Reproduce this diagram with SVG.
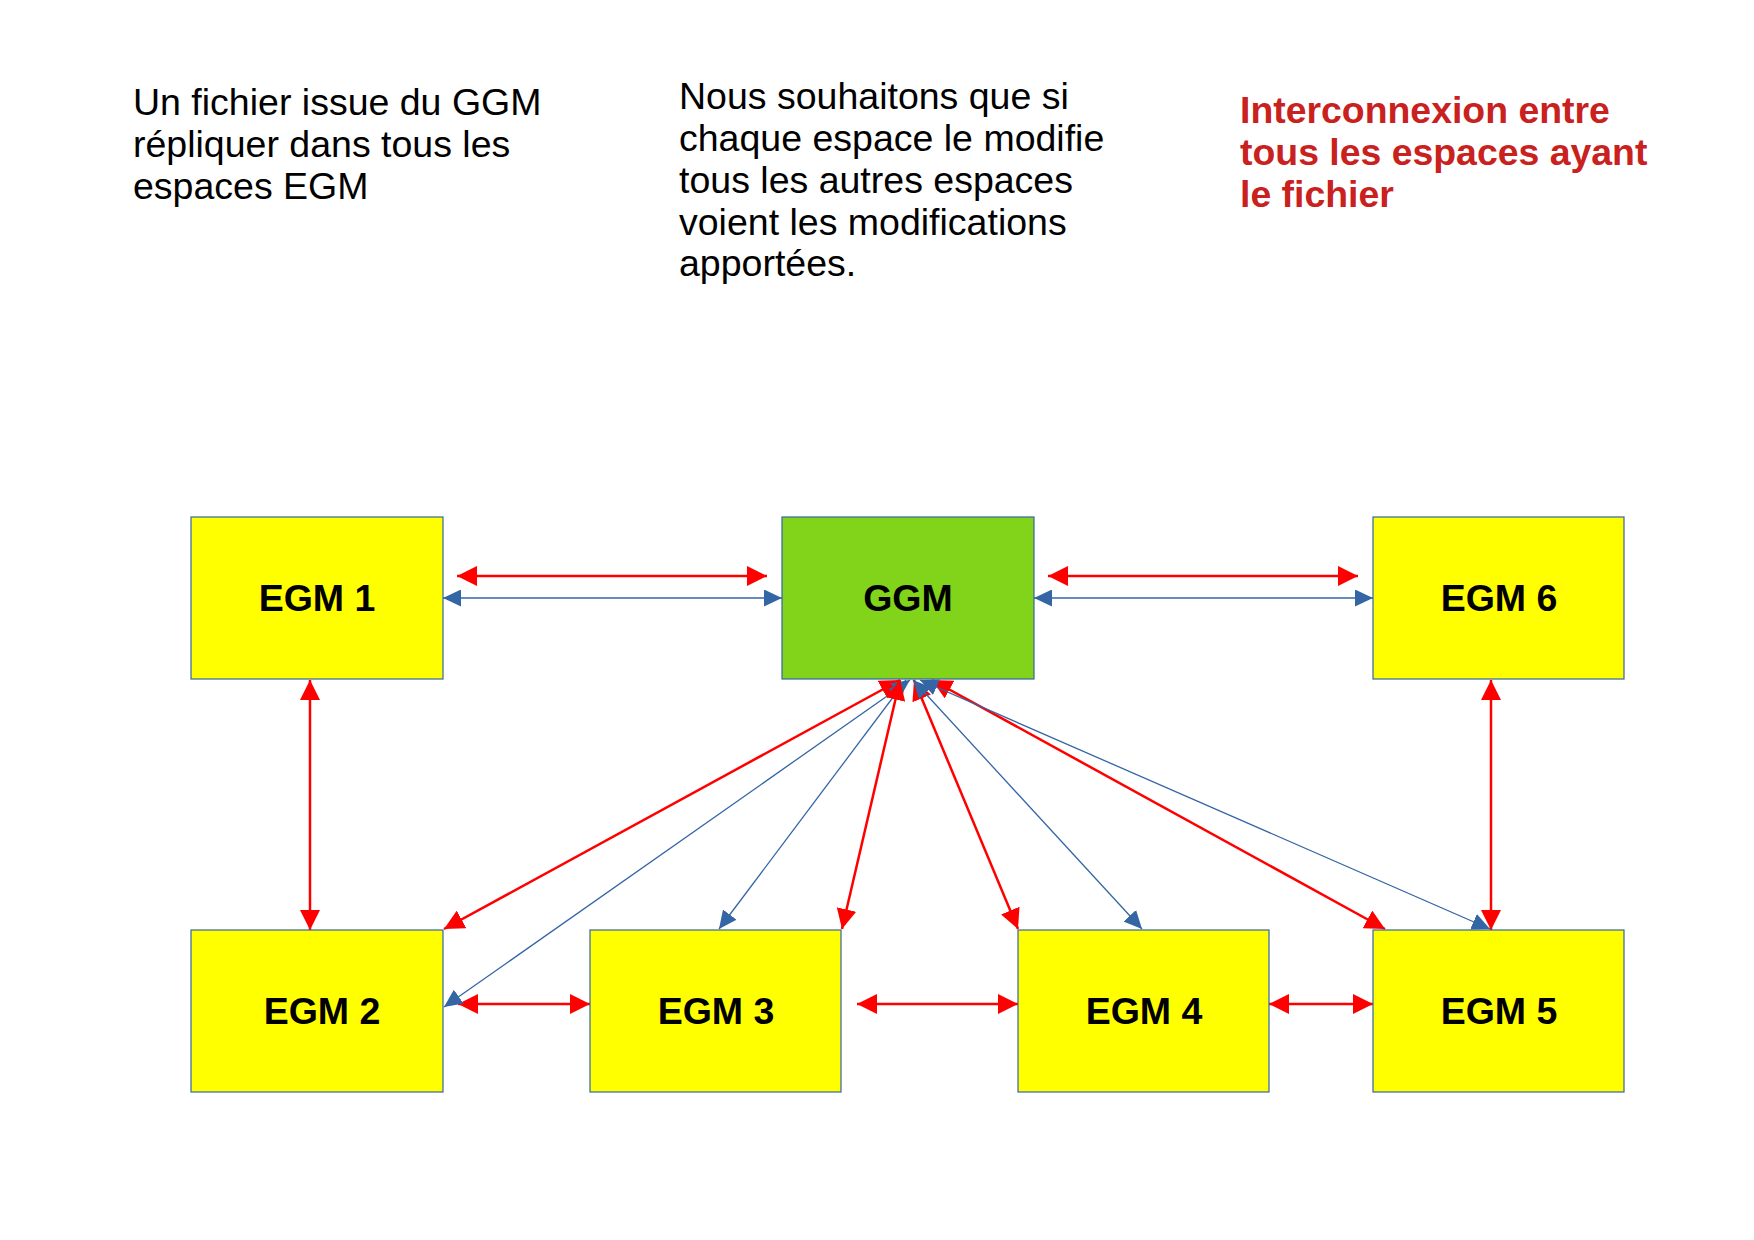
<svg xmlns="http://www.w3.org/2000/svg" width="1754" height="1240" viewBox="0 0 1754 1240">
<style>
.box{stroke:#3465A4;stroke-width:1.2}
.egm{fill:#FFFF00}
.ggm{fill:#81D41A}
.lbl{font-family:"Liberation Sans",Arial,sans-serif;font-weight:bold;font-size:37.5px;fill:#000;text-anchor:middle}
.note{font-family:"Liberation Sans",Arial,sans-serif;font-size:37.5px;fill:#000}
.title{font-family:"Liberation Sans",Arial,sans-serif;font-size:37.4px;font-weight:bold;fill:#C9211E}
.r{stroke:#FF0000;stroke-width:2.5;fill:none;marker-start:url(#ra);marker-end:url(#ra)}
.b{stroke:#3465A4;stroke-width:1.3;fill:none;marker-start:url(#ba);marker-end:url(#ba)}
</style>
<defs>
<marker id="ra" viewBox="0 0 20 20" refX="20" refY="10" markerWidth="20" markerHeight="20" orient="auto-start-reverse" markerUnits="userSpaceOnUse"><path d="M0,0 L20,10 L0,20 z" fill="#FF0000"/></marker>
<marker id="ba" viewBox="0 0 18 17" refX="18" refY="8.5" markerWidth="18" markerHeight="17" orient="auto-start-reverse" markerUnits="userSpaceOnUse"><path d="M0,0 L18,8.5 L0,17 z" fill="#3465A4"/></marker>
</defs>
<rect width="1754" height="1240" fill="#FFFFFF"/>

<g id="notes">
<text class="note" x="133" y="115">Un fichier issue du GGM</text>
<text class="note" x="133" y="157">répliquer dans tous les</text>
<text class="note" x="133" y="199">espaces EGM</text>
<text class="note" x="679" y="109">Nous souhaitons que si</text>
<text class="note" x="679" y="151">chaque espace le modifie</text>
<text class="note" x="679" y="193">tous les autres espaces</text>
<text class="note" x="679" y="235">voient les modifications</text>
<text class="note" x="679" y="276">apportées.</text>
<text class="title" x="1240" y="123">Interconnexion entre</text>
<text class="title" x="1240" y="165">tous les espaces ayant</text>
<text class="title" x="1240" y="207">le fichier</text>
</g>

<g id="connectors">
<line class="r" x1="457" y1="576" x2="767" y2="576"/>
<line class="b" x1="443" y1="598" x2="782" y2="598"/>
<line class="r" x1="1048" y1="576" x2="1358" y2="576"/>
<line class="b" x1="1034" y1="598" x2="1373" y2="598"/>
<line class="r" x1="310" y1="680" x2="310" y2="930"/>
<line class="r" x1="1491" y1="680" x2="1491" y2="930"/>
<line class="r" x1="458" y1="1004" x2="590" y2="1004"/>
<line class="r" x1="857" y1="1004" x2="1018" y2="1004"/>
<line class="r" x1="1269" y1="1004" x2="1373" y2="1004"/>
<line class="r" x1="900" y1="680" x2="444" y2="929"/>
<line class="b" x1="910" y1="680" x2="444" y2="1007"/>
<line class="b" x1="906" y1="680" x2="719" y2="929"/>
<line class="r" x1="900" y1="680" x2="842" y2="929"/>
<line class="r" x1="914" y1="680" x2="1018" y2="929"/>
<line class="b" x1="913" y1="680" x2="1142" y2="929"/>
<line class="r" x1="932" y1="680" x2="1385" y2="929"/>
<line class="b" x1="920" y1="680" x2="1490" y2="929"/>
</g>

<g id="egm1"><rect class="box egm" x="191" y="517" width="252" height="162"/><text class="lbl" x="317" y="611">EGM 1</text></g>
<g id="ggm"><rect class="box ggm" x="782" y="517" width="252" height="162"/><text class="lbl" x="908" y="611">GGM</text></g>
<g id="egm6"><rect class="box egm" x="1373" y="517" width="251" height="162"/><text class="lbl" x="1499" y="611">EGM 6</text></g>
<g id="egm2"><rect class="box egm" x="191" y="930" width="252" height="162"/><text class="lbl" x="322" y="1024">EGM 2</text></g>
<g id="egm3"><rect class="box egm" x="590" y="930" width="251" height="162"/><text class="lbl" x="716" y="1024">EGM 3</text></g>
<g id="egm4"><rect class="box egm" x="1018" y="930" width="251" height="162"/><text class="lbl" x="1144" y="1024">EGM 4</text></g>
<g id="egm5"><rect class="box egm" x="1373" y="930" width="251" height="162"/><text class="lbl" x="1499" y="1024">EGM 5</text></g>
</svg>
